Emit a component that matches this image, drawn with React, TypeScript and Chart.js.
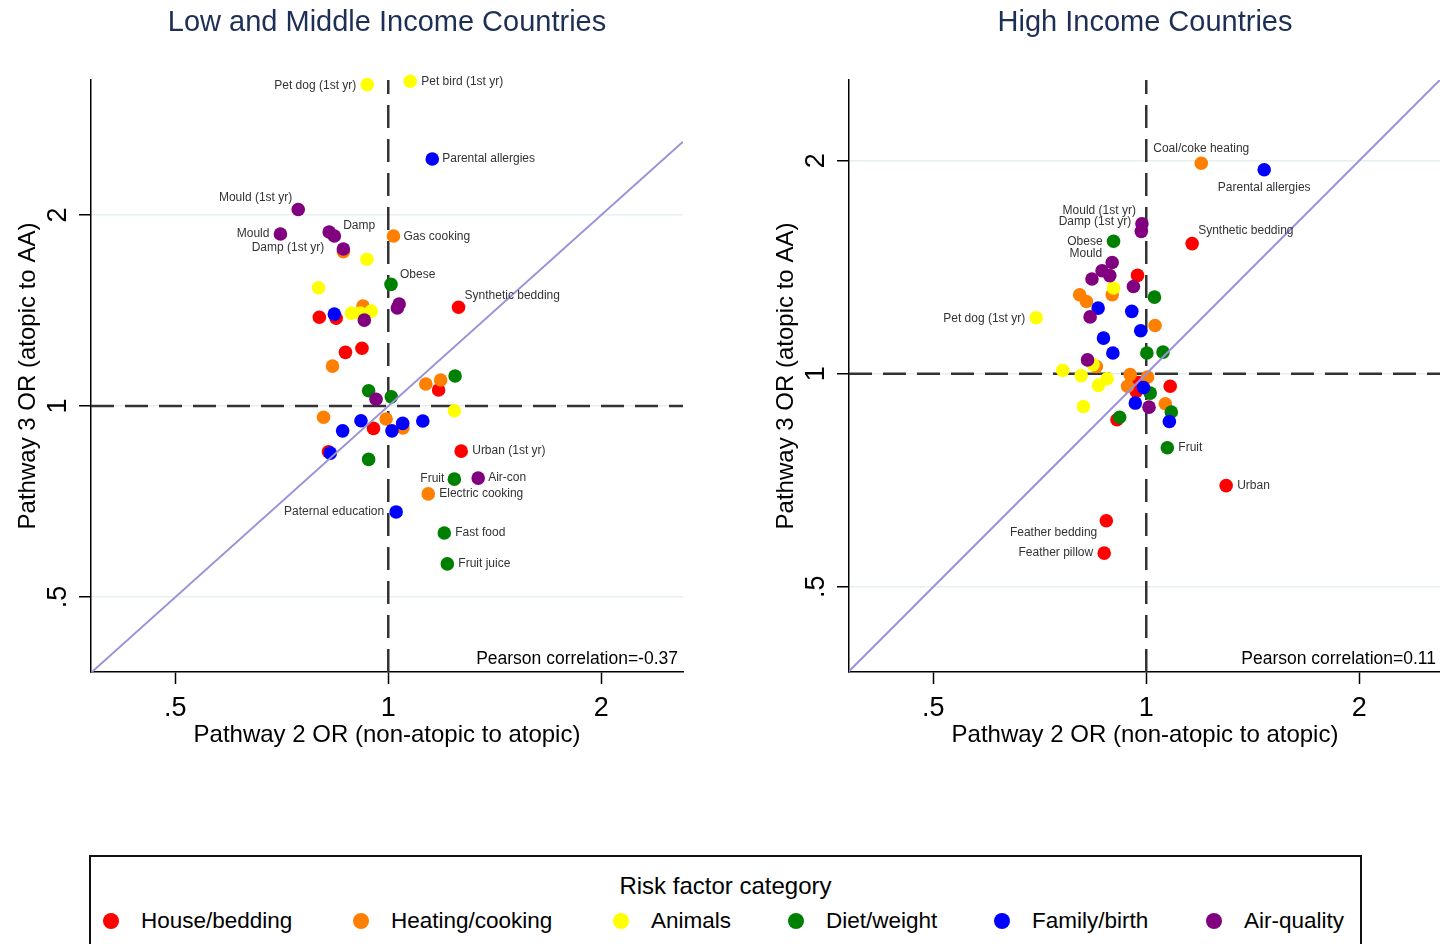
import React, { useEffect, useRef } from 'react';
import { Chart, registerables } from 'chart.js';

Chart.register(...registerables);

const FONT = '"Liberation Sans", Arial, Helvetica, sans-serif';

// ---------- categories ----------
const CATEGORIES = ['House/bedding', 'Heating/cooking', 'Animals', 'Diet/weight', 'Family/birth', 'Air-quality'];
const CATEGORY_COLORS = ['#ff0000', '#ff7f00', '#ffff00', '#008000', '#0000ff', '#800080'];

// ---------- axes ----------
const X_TICKS = [0.5, 1, 2];
const X_TICK_LABELS = ['.5', '1', '2'];
const Y_TICKS = [0.5, 1, 2];
const Y_TICK_LABELS = ['.5', '1', '2'];
const X_TITLE = 'Pathway 2 OR (non-atopic to atopic)';
const Y_TITLE = 'Pathway 3 OR (atopic to AA)';
const X_RANGE = [0.38, 2.61];
const LMIC_Y_RANGE = [0.381, 3.264];
const HIC_Y_RANGE = [0.379, 2.6];

// ---------- Low and Middle Income Countries: [Pathway 2 OR, Pathway 3 OR] ----------
const LMIC_HOUSE = [
  [1.257, 1.431], [0.799, 1.38], [0.844, 1.375], [0.87, 1.215], [0.918, 1.233],
  [1.178, 1.06], [0.953, 0.922], [0.823, 0.847], [1.268, 0.849],
];
const LMIC_HEATING = [
  [1.017, 1.853], [0.864, 1.75], [0.921, 1.437], [0.834, 1.156], [1.13, 1.083],
  [1.186, 1.099], [0.81, 0.96], [0.993, 0.954], [1.049, 0.924], [1.139, 0.727],
];
const LMIC_ANIMALS = [
  [0.934, 3.21], [1.074, 3.25], [0.933, 1.703], [0.797, 1.536], [0.887, 1.401],
  [0.913, 1.401], [0.946, 1.411], [1.24, 0.983],
];
const LMIC_DIET = [
  [1.009, 1.555], [0.938, 1.057], [1.01, 1.034], [1.243, 1.115], [0.938, 0.824],
  [1.24, 0.767], [1.2, 0.631], [1.212, 0.564],
];
const LMIC_FAMILY = [
  [1.154, 2.45], [0.839, 1.396], [0.915, 0.948], [0.862, 0.914], [1.012, 0.914],
  [1.048, 0.939], [1.119, 0.947], [0.828, 0.843], [1.026, 0.681],
];
const LMIC_AIR = [
  [0.746, 2.04], [0.704, 1.867], [0.825, 1.88], [0.839, 1.853], [0.864, 1.768],
  [1.036, 1.448], [1.03, 1.427], [0.925, 1.366], [0.961, 1.025], [1.34, 0.77],
];
// label text, category index, point index
const LMIC_LABELS = [
  ['Pet dog (1st yr)', 2, 0], ['Pet bird (1st yr)', 2, 1], ['Parental allergies', 4, 0],
  ['Mould (1st yr)', 5, 0], ['Mould', 5, 1], ['Damp', 5, 2], ['Damp (1st yr)', 5, 4],
  ['Gas cooking', 1, 0], ['Obese', 3, 0], ['Synthetic bedding', 0, 0], ['Urban (1st yr)', 0, 8],
  ['Fruit', 3, 5], ['Air-con', 5, 9], ['Electric cooking', 1, 9], ['Paternal education', 4, 8],
  ['Fast food', 3, 6], ['Fruit juice', 3, 7],
];
const LMIC_CORR = 'Pearson correlation=-0.37';

// ---------- High Income Countries ----------
const HIC_HOUSE = [
  [1.161, 1.527], [0.972, 1.377], [0.975, 0.972], [0.968, 0.944], [1.081, 0.96],
  [0.909, 0.861], [1.297, 0.695], [0.878, 0.62], [0.872, 0.558],
];
const HIC_HEATING = [
  [1.196, 1.983], [0.895, 1.293], [0.805, 1.293], [0.823, 1.265], [1.029, 1.17],
  [0.85, 1.024], [0.949, 0.997], [0.941, 0.96], [1.004, 0.989], [1.064, 0.907],
];
const HIC_ANIMALS = [
  [0.699, 1.2], [0.899, 1.322], [0.841, 1.03], [0.762, 1.011], [0.809, 0.994],
  [0.88, 0.984], [0.856, 0.963], [0.815, 0.899],
];
const HIC_DIET = [
  [0.899, 1.539], [1.027, 1.283], [1.002, 1.07], [1.056, 1.073], [1.013, 0.939],
  [1.085, 0.883], [0.917, 0.868], [1.071, 0.786],
];
const HIC_FAMILY = [
  [1.468, 1.942], [0.855, 1.238], [0.954, 1.225], [0.982, 1.15], [0.87, 1.123],
  [0.897, 1.07], [0.991, 0.956], [0.965, 0.909], [1.078, 0.856],
];
const HIC_AIR = [
  [0.986, 1.629], [0.984, 1.589], [0.895, 1.436], [0.866, 1.398], [0.838, 1.361],
  [0.888, 1.376], [0.959, 1.328], [0.833, 1.203], [0.826, 1.046], [1.009, 0.897],
];
const HIC_LABELS = [
  ['Coal/coke heating', 1, 0], ['Parental allergies', 4, 0], ['Synthetic bedding', 0, 0],
  ['Mould (1st yr)', 5, 0], ['Damp (1st yr)', 5, 1], ['Obese', 3, 0], ['Mould', 5, 2],
  ['Pet dog (1st yr)', 2, 0], ['Fruit', 3, 7], ['Urban', 0, 6], ['Feather bedding', 0, 7],
  ['Feather pillow', 0, 8],
];
const HIC_CORR = 'Pearson correlation=0.11';

// ---------- label placement (pixel offsets from marker, alignment) ----------
const LMIC_LABEL_PLACE = [
  [-11, 1, 'right'], [11, 1, 'left'], [10, 0, 'left'],
  [-6, -12, 'right'], [-11, 0, 'right'], [14, -6, 'left'], [-19, -1, 'right'],
  [10, 1, 'left'], [9, -10, 'left'], [6, -12, 'left'], [11, 0, 'left'],
  [-10, 0, 'right'], [10, 0, 'left'], [11, 0, 'left'], [-12, 0, 'right'],
  [11, 0, 'left'], [11, 0, 'left'],
];
const HIC_LABEL_PLACE = [
  [0, -15, 'center'], [0, 18, 'center'], [6, -13, 'left'],
  [-6, -13, 'right'], [-10, -10, 'right'], [-11, 0, 'right'], [-10, -9, 'right'],
  [-11, 1, 'right'], [11, 0, 'left'], [11, 0, 'left'], [-9, 12, 'right'],
  [-11, 0, 'right'],
];

// legend marker centres (page x)
const LEGEND_MARKER_X = [111, 361, 621, 796, 1002, 1214];

function makePanelPlugin(p: any) {
  return {
    id: 'panelText_' + p.key,
    afterDraw(chart: any) {
      const ctx = chart.ctx;
      const area = chart.chartArea;
      const xs = chart.scales.x;
      const ys = chart.scales.y;
      const cx = (area.left + area.right) / 2;
      ctx.save();
      ctx.textBaseline = 'middle';
      ctx.textAlign = 'center';
      // panel title
      ctx.fillStyle = '#1e2f55';
      ctx.font = `29px ${FONT}`;
      ctx.fillText(p.title, cx, 23);
      // x tick labels
      ctx.fillStyle = '#000';
      ctx.font = `27px ${FONT}`;
      X_TICKS.forEach((v, i) => ctx.fillText(X_TICK_LABELS[i], xs.getPixelForValue(v), 709));
      // x title
      ctx.font = `24px ${FONT}`;
      ctx.fillText(X_TITLE, cx, 735);
      // y tick labels (rotated)
      Y_TICKS.forEach((v, i) => {
        ctx.save();
        ctx.translate(area.left - 32, ys.getPixelForValue(v));
        ctx.rotate(-Math.PI / 2);
        ctx.font = `27px ${FONT}`;
        ctx.fillText(Y_TICK_LABELS[i], 0, 0);
        ctx.restore();
      });
      // y title
      ctx.save();
      ctx.translate(area.left - 63, (area.top + area.bottom) / 2);
      ctx.rotate(-Math.PI / 2);
      ctx.font = `24px ${FONT}`;
      ctx.fillText(Y_TITLE, 0, 0);
      ctx.restore();
      // correlation
      ctx.textAlign = 'right';
      ctx.font = `17.5px ${FONT}`;
      ctx.fillText(p.corr, area.right - 5, 659);
      // point labels
      ctx.font = `12px ${FONT}`;
      ctx.fillStyle = '#333';
      p.labels.forEach((lab: any, k: number) => {
        const el = chart.getDatasetMeta(lab[1]).data[lab[2]];
        if (!el) return;
        const pl = p.place[k];
        ctx.textAlign = pl[2];
        ctx.fillText(lab[0], el.x + pl[0], el.y + pl[1]);
      });
      ctx.restore();
    },
  };
}

function buildConfig(p: any) {
  const [xMin, xMax] = X_RANGE;
  const [yMin, yMax] = p.yRange;
  const pointSets = p.series.map((pts: number[][], i: number) => ({
    label: CATEGORIES[i],
    data: pts.map(([x, y]) => ({ x, y })),
    backgroundColor: CATEGORY_COLORS[i],
    borderWidth: 0,
    pointRadius: 6.8,
    pointHoverRadius: 6.8,
    showLine: false,
    clip: false,
    order: 10 - i,
  }));
  const refLine = {
    label: 'diag',
    data: [{ x: xMin, y: xMin }, { x: xMax, y: xMax }],
    showLine: true,
    borderColor: '#9a92d8',
    borderWidth: 2,
    pointRadius: 0,
    order: 1,
  };
  const vLine = {
    label: 'v',
    data: [{ x: 1, y: yMin }, { x: 1, y: yMax }],
    showLine: true,
    borderColor: '#333',
    borderWidth: 2.5,
    borderDash: [23, 11],
    pointRadius: 0,
    order: 20,
  };
  const hLine = {
    label: 'h',
    data: [{ x: xMin, y: 1 }, { x: xMax, y: 1 }],
    showLine: true,
    borderColor: '#333',
    borderWidth: 2.5,
    borderDash: [23, 11],
    pointRadius: 0,
    order: 21,
  };
  return {
    type: 'scatter',
    data: { datasets: [...pointSets, refLine, vLine, hLine] },
    options: {
      responsive: false,
      animation: false,
      events: [],
      layout: { padding: { left: 0, top: 80, right: p.padRight, bottom: 0 } },
      plugins: { legend: { display: false }, tooltip: { enabled: false }, title: { display: false } },
      scales: {
        x: {
          type: 'logarithmic',
          min: xMin,
          max: xMax,
          afterBuildTicks: (s: any) => { s.ticks = X_TICKS.map((v) => ({ value: v })); },
          afterFit: (s: any) => { s.height = 108; },
          ticks: { display: false },
          grid: { drawOnChartArea: false, drawTicks: true, tickLength: 12, tickColor: '#000', tickWidth: 1.5 },
          border: { display: true, color: '#000', width: 1.5 },
        },
        y: {
          type: 'logarithmic',
          min: yMin,
          max: yMax,
          afterBuildTicks: (s: any) => { s.ticks = Y_TICKS.map((v) => ({ value: v })); },
          afterFit: (s: any) => { s.width = p.yWidth; },
          ticks: { display: false },
          grid: { drawOnChartArea: true, color: '#e6eff1', lineWidth: 1.5, drawTicks: true, tickLength: 12, tickColor: '#000', tickWidth: 1.5 },
          border: { display: true, color: '#000', width: 1.5 },
        },
      },
    },
    plugins: [makePanelPlugin(p)],
  };
}

const PANELS = [
  {
    key: 'lmic',
    title: 'Low and Middle Income Countries',
    series: [LMIC_HOUSE, LMIC_HEATING, LMIC_ANIMALS, LMIC_DIET, LMIC_FAMILY, LMIC_AIR],
    labels: LMIC_LABELS,
    place: LMIC_LABEL_PLACE,
    corr: LMIC_CORR,
    yRange: LMIC_Y_RANGE,
    yWidth: 91,
    padRight: 37,
    left: 0,
    width: 720,
  },
  {
    key: 'hic',
    title: 'High Income Countries',
    series: [HIC_HOUSE, HIC_HEATING, HIC_ANIMALS, HIC_DIET, HIC_FAMILY, HIC_AIR],
    labels: HIC_LABELS,
    place: HIC_LABEL_PLACE,
    corr: HIC_CORR,
    yRange: HIC_Y_RANGE,
    yWidth: 129,
    padRight: 19,
    left: 720,
    width: 740,
  },
];

function Panel({ p }: { p: any }) {
  const ref = useRef<HTMLCanvasElement | null>(null);
  useEffect(() => {
    if (!ref.current) return;
    const chart = new Chart(ref.current, buildConfig(p) as any);
    return () => chart.destroy();
  }, [p]);
  return (
    <canvas
      ref={ref}
      width={p.width}
      height={780}
      style={{ position: 'absolute', left: p.left, top: 0, width: p.width, height: 780 }}
    />
  );
}

function Legend() {
  const boxLeft = 89;
  const border = 2;
  return (
    <div
      style={{
        position: 'absolute', left: boxLeft, top: 855, width: 1273, height: 130,
        border: `${border}px solid #111`, boxSizing: 'border-box', fontFamily: FONT, color: '#000', background: '#fff',
      }}
    >
      <div style={{ position: 'absolute', top: 15, left: 0, right: 0, textAlign: 'center', fontSize: 24, lineHeight: '28px' }}>
        Risk factor category
      </div>
      {CATEGORIES.map((c, i) => (
        <div
          key={c}
          style={{
            position: 'absolute', top: 50, left: LEGEND_MARKER_X[i] - boxLeft - border - 8,
            display: 'flex', alignItems: 'center', whiteSpace: 'nowrap', height: 28,
          }}
        >
          <span style={{ display: 'inline-block', width: 16, height: 16, borderRadius: 8, background: CATEGORY_COLORS[i], marginRight: 22 }} />
          <span style={{ fontSize: 22.5, lineHeight: '28px' }}>{c}</span>
        </div>
      ))}
    </div>
  );
}

export default function App() {
  return (
    <div style={{ position: 'absolute', left: 0, top: 0, width: 1440, height: 944, overflow: 'hidden', background: '#fff' }}>
      {PANELS.map((p) => <Panel key={p.key} p={p} />)}
      <Legend />
    </div>
  );
}
